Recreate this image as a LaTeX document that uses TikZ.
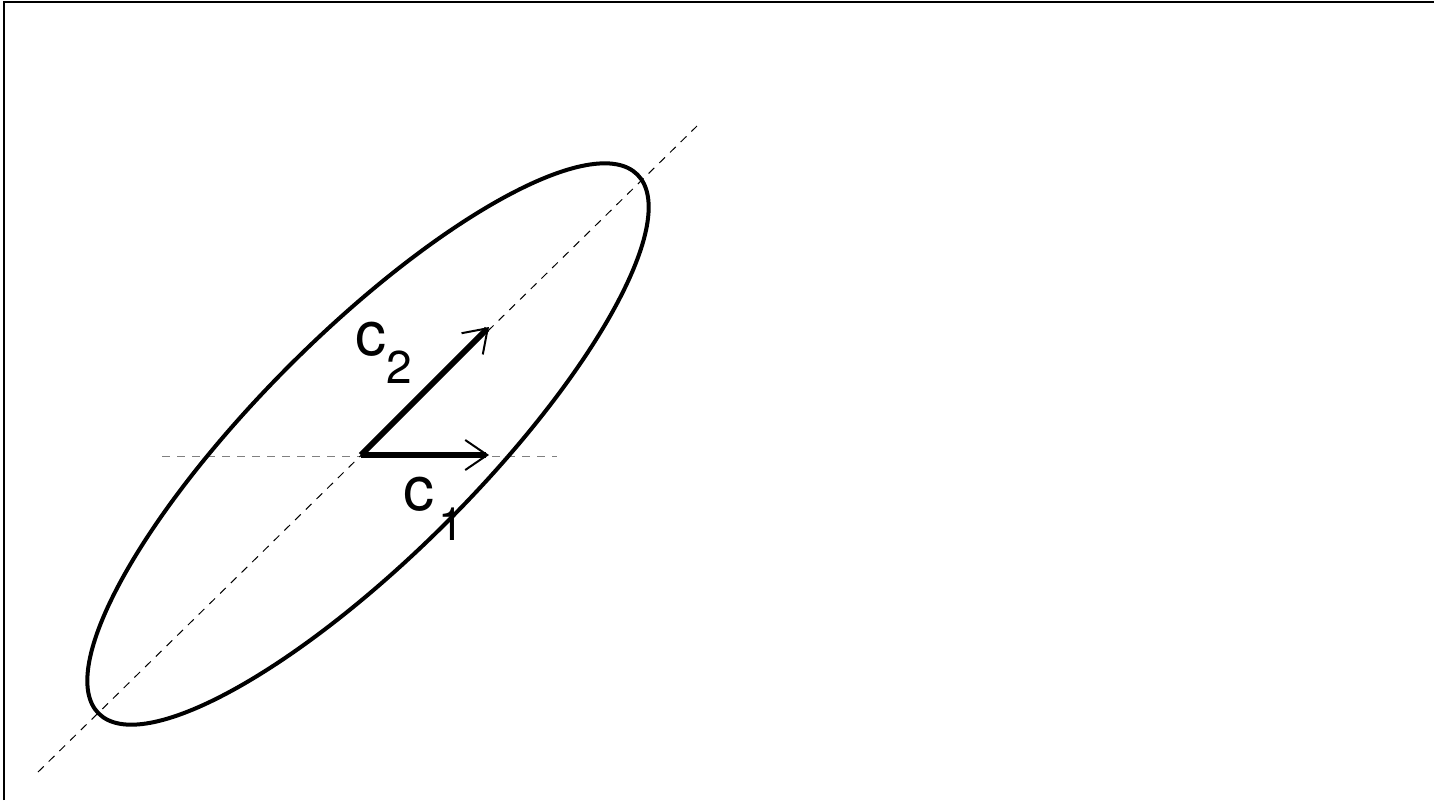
\documentclass[tikz,border=0pt]{standalone}
\usepackage{fontspec}
\setmainfont{TeX Gyre Heros}
\usetikzlibrary{arrows.meta}

\begin{document}
\begin{tikzpicture}[x=0.5pt, y=-0.5pt,
  axisline/.style={line width=0.5pt, dash pattern=on 4pt off 3.5pt},
  vecarrow/.style={line width=2.9pt, -{Straight Barb[length=11pt, width=15pt, line width=1pt]}},
  lab/.style={inner sep=0pt, anchor=base west, font=\fontsize{31pt}{36pt}\selectfont}]
  \useasboundingbox (0,0) rectangle (1435,800);
  % Frame
  \draw[line width=0.75pt] (4,800) -- (4,2) -- (1434,2);
  % Points
  \coordinate (o) at (361,455);
  \coordinate (e1) at (489,455);
  \coordinate (e2) at (489,327);
  \coordinate (ctr) at (368,444);
  \coordinate (hl) at (162,456);
  \coordinate (hr) at (557,456);
  \coordinate (dl) at (38,772);
  \coordinate (dr) at (697,126);
  % Dashed axes
  \draw[axisline, gray] (hl) -- (hr);
  \draw[axisline] (dl) -- (dr);
  % Ellipse
  \draw[line width=2pt, rotate around={45:(ctr)}] (ctr) ellipse [x radius=190.5pt, y radius=55.5pt];
  % Vectors
  \draw[vecarrow] (o) -- (e1);
  \draw[vecarrow] (o) -- (e2);
  % Labels
  \node[lab] (c1) at (403,510) {c\hspace{2pt}\raisebox{-15pt}{\fontsize{23pt}{27pt}\selectfont 1}};
  \node[lab] (c2) at (355,355) {c\raisebox{-14pt}{\fontsize{23pt}{27pt}\selectfont 2}};
\end{tikzpicture}
\end{document}
